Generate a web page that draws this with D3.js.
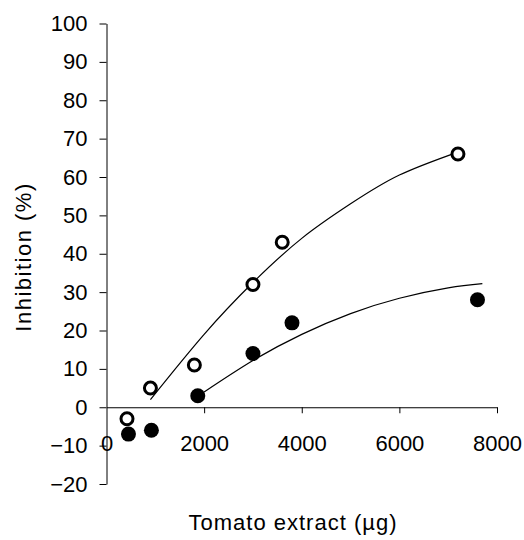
<!DOCTYPE html>
<html>
<head>
<meta charset="utf-8">
<script src="https://cdn.jsdelivr.net/npm/d3@7"></script>
<style>
  body { margin: 0; background: #fff; }
  svg { display: block; }
  text { font-family: "Liberation Sans", Arial, sans-serif; fill: #000; }
</style>
</head>
<body>
<script>
// Data
const xTicks = [0, 2000, 4000, 6000, 8000];
const yTicks = [-20, -10, 0, 10, 20, 30, 40, 50, 60, 70, 80, 90, 100];

// open circles
const openX = [420, 900, 1800, 3000, 3600, 7200];
const openY = [-3, 5, 11, 32, 43, 66];

// filled circles
const filledX = [450, 920, 1870, 3000, 3800, 7600];
const filledY = [-7, -6, 3, 14, 22, 28];

// fitted curves
const openFitX = [900, 2000, 3000, 4000, 5000, 6000, 7200];
const openFitY = [2, 19, 32.5, 44, 53, 60.5, 66.5];
const filledFitX = [2000, 3000, 4000, 5000, 6000, 7000, 7700];
const filledFitY = [4, 12.2, 19, 24.4, 28.4, 31.1, 32.2];

const w = 524;
const h = 540;

const svg = d3.select("body")
              .append("svg")
              .attr("width", w)
              .attr("height", h);

const xScale = d3.scaleLinear()
                 .domain([0, 8000])
                 .range([106.5, 497]);

const yScale = d3.scaleLinear()
                 .domain([-20, 100])
                 .range([484, 23.5]);

// Axes

const yAxis = d3.axisLeft(yScale)
                .tickValues(yTicks)
                .tickSize(7)
                .tickPadding(12)
                .tickSizeOuter(0);

const gy = svg.append("g")
   .attr("id", "y-axis")
   .attr("transform", "translate(" + xScale(0) + ",0)")
   .call(yAxis);
gy.selectAll("text").attr("font-size", 22).attr("font-family", "Liberation Sans, Arial, sans-serif");

const xAxis = d3.axisBottom(xScale)
                .tickValues(xTicks)
                .tickSize(6)
                .tickPadding(22)
                .tickSizeOuter(0)
                .tickFormat(d3.format("d"));

const gx = svg.append("g")
   .attr("id", "x-axis")
   .attr("transform", "translate(0," + yScale(0) + ")")
   .call(xAxis);
gx.selectAll("text").attr("font-size", 22).attr("font-family", "Liberation Sans, Arial, sans-serif");
gx.selectAll(".tick").filter(d => d === 0).select("line").remove();

// Fitted curves

const line = d3.line()
               .x(d => xScale(d[0]))
               .y(d => yScale(d[1]))
               .curve(d3.curveNatural);

svg.append("path")
   .datum(openFitX.map((x, i) => [x, openFitY[i]]))
   .attr("d", line)
   .attr("fill", "none")
   .attr("stroke", "#000")
   .attr("stroke-width", 1.2);

svg.append("path")
   .datum(filledFitX.map((x, i) => [x, filledFitY[i]]))
   .attr("d", line)
   .attr("fill", "none")
   .attr("stroke", "#000")
   .attr("stroke-width", 1.2);

// Points

svg.append("g")
  .selectAll("circle")
  .data(filledX.map((x, i) => [x, filledY[i]]))
  .enter()
  .append("circle")
  .attr("cx", d => xScale(d[0]))
  .attr("cy", d => yScale(d[1]))
  .attr("r", 7.5)
  .attr("fill", "#000");

svg.append("g")
  .selectAll("circle")
  .data(openX.map((x, i) => [x, openY[i]]))
  .enter()
  .append("circle")
  .attr("cx", d => xScale(d[0]))
  .attr("cy", d => yScale(d[1]))
  .attr("r", 6)
  .attr("fill", "#fff")
  .attr("stroke", "#000")
  .attr("stroke-width", 3);

// Axis titles

svg.append("text")
   .attr("x", 293)
   .attr("y", 530)
   .attr("text-anchor", "middle")
   .attr("font-size", 22)
   .attr("letter-spacing", 1)
   .text("Tomato extract (\u00b5g)");

svg.append("text")
   .attr("transform", "translate(31,257) rotate(-90)")
   .attr("text-anchor", "middle")
   .attr("font-size", 22)
   .attr("letter-spacing", 1.5)
   .text("Inhibition (%)");
</script>
</body>
</html>
